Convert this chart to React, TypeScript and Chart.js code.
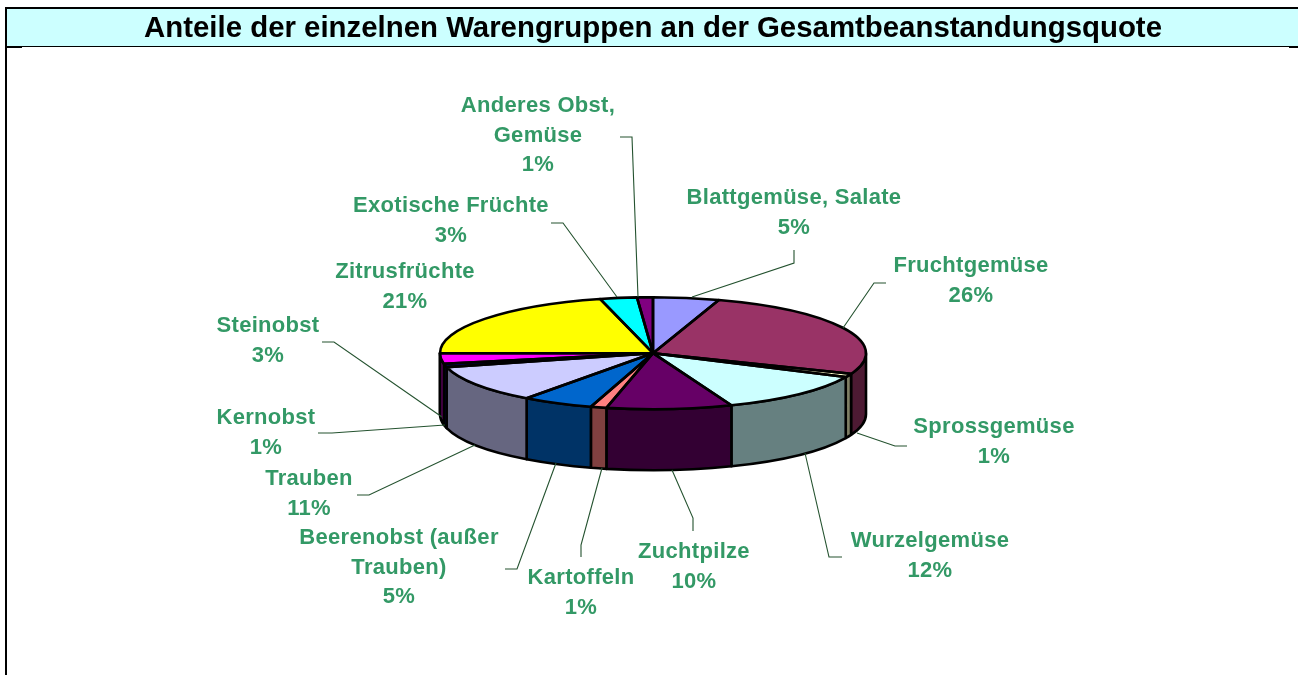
import React, { useEffect, useRef } from "react";
import { Chart, registerables } from "chart.js";

Chart.register(...registerables);

const TITLE = "Anteile der einzelnen Warengruppen an der Gesamtbeanstandungsquote";

const categories = [
  "Blattgemüse, Salate",
  "Fruchtgemüse",
  "Sprossgemüse",
  "Wurzelgemüse",
  "Zuchtpilze",
  "Kartoffeln",
  "Beerenobst (außer\nTrauben)",
  "Trauben",
  "Kernobst",
  "Steinobst",
  "Zitrusfrüchte",
  "Exotische Früchte",
  "Anderes Obst,\nGemüse",
];

const shares = [5, 26, 1, 12, 9.51, 1.2, 5.4, 10.89, 1, 3, 21, 2.8, 1.2];

const topColors = [
  "#9999FF", "#993366", "#FFFFCC", "#CCFFFF", "#660066", "#FF8080", "#0066CC",
  "#CCCCFF", "#000080", "#FF00FF", "#FFFF00", "#00FFFF", "#800080",
];

const sideColors = [
  "#4D4D80", "#4D1A33", "#808066", "#668080", "#330033", "#804040", "#003366",
  "#666680", "#000040", "#800080", "#808000", "#008080", "#400040",
];

// Layout of the annotation text: centre x and first-line centre y
const labelCentres = [
  [794, 198], [971, 266], [994, 427], [930, 541], [694, 552], [581, 578], [399, 538],
  [309, 479], [266, 418], [268, 326], [405, 272], [451, 206], [538, 106],
];

const leaderPaths = [
  [[794, 250], [794, 263], [692, 297]],
  [[886, 283], [874, 283], [843, 328]],
  [[907, 446], [895, 446], [857, 433]],
  [[842, 557], [829, 557], [805, 453]],
  [[693, 531], [693, 518], [672, 470]],
  [[581, 557], [581, 545], [602, 468]],
  [[505, 569], [517, 569], [556, 463]],
  [[357, 495], [369, 495], [475, 445]],
  [[318, 433], [332, 433], [445, 425]],
  [[322, 342], [334, 342], [442, 417]],
  [],
  [[551, 223], [563, 223], [617, 297]],
  [[620, 137], [632, 137], [638, 297]],
];

const SQUASH = 56 / 213;
const DEPTH = 61;
const total = shares.reduce((a, b) => a + b, 0);

const pie3d = {
  id: "pie3d",
  beforeDraw(chart: any) {
    const { ctx, width, height } = chart;
    ctx.save();
    ctx.fillStyle = "#FFFFFF";
    ctx.fillRect(0, 0, width, height);
    ctx.fillStyle = "#CCFFFF";
    ctx.fillRect(6, 8, width - 6, 38);
    ctx.fillStyle = "#000000";
    ctx.fillRect(5, 7, width - 5, 2);
    ctx.fillRect(5, 7, 2, height - 7);
    ctx.fillRect(6, 46, width - 6, 1);
    ctx.fillRect(6, 47, 16, 1);
    ctx.fillRect(width - 9, 47, 9, 1);
    ctx.restore();
  },
  beforeDatasetsDraw(chart: any) {
    const { ctx } = chart;
    const arcs = chart.getDatasetMeta(0).data;
    const { x, y, outerRadius: r } = arcs[0];
    const ry = r * SQUASH;
    ctx.save();
    ctx.lineWidth = 2.6;
    ctx.lineJoin = "round";
    ctx.strokeStyle = "#000000";
    arcs.forEach((arc: any, i: number) => {
      const a1 = Math.max(arc.startAngle, 0);
      const a2 = Math.min(arc.endAngle, Math.PI);
      if (a2 <= a1) return;
      ctx.beginPath();
      ctx.ellipse(x, y, r, ry, 0, a1, a2);
      ctx.lineTo(x + r * Math.cos(a2), y + ry * Math.sin(a2) + DEPTH);
      ctx.ellipse(x, y + DEPTH, r, ry, 0, a2, a1, true);
      ctx.closePath();
      ctx.fillStyle = sideColors[i];
      ctx.fill();
      ctx.stroke();
    });
    ctx.restore();
    ctx.save();
    ctx.translate(x, y);
    ctx.scale(1, SQUASH);
    ctx.translate(-x, -y);
  },
  afterDatasetsDraw(chart: any) {
    const { ctx } = chart;
    ctx.restore();
    const arcs = chart.getDatasetMeta(0).data;
    const { x, y, outerRadius: r } = arcs[0];
    const ry = r * SQUASH;
    ctx.save();
    ctx.lineWidth = 2.6;
    ctx.lineJoin = "round";
    ctx.strokeStyle = "#000000";
    arcs.forEach((arc: any) => {
      ctx.beginPath();
      ctx.moveTo(x, y);
      ctx.ellipse(x, y, r, ry, 0, arc.startAngle, arc.endAngle);
      ctx.closePath();
      ctx.stroke();
    });
    ctx.restore();

    ctx.save();
    ctx.strokeStyle = "#24522F";
    ctx.lineWidth = 1.1;
    leaderPaths.forEach((path) => {
      if (!path.length) return;
      ctx.beginPath();
      path.forEach(([px, py], k) => (k ? ctx.lineTo(px, py) : ctx.moveTo(px, py)));
      ctx.stroke();
    });
    ctx.fillStyle = "#339966";
    ctx.font = 'bold 22px "Liberation Sans", Arial, sans-serif';
    ctx.letterSpacing = "0.3px";
    ctx.textAlign = "center";
    ctx.textBaseline = "middle";
    categories.forEach((name, i) => {
      const [cx, cy] = labelCentres[i];
      const lines = [...name.split("\n"), `${Math.round((shares[i] / total) * 100)}%`];
      lines.forEach((line, k) => ctx.fillText(line, cx, cy + k * 29.5));
    });
    ctx.restore();
  },
};

export default function App() {
  const ref = useRef<HTMLCanvasElement>(null);
  useEffect(() => {
    const chart = new Chart(ref.current as HTMLCanvasElement, {
      type: "pie",
      data: {
        labels: categories,
        datasets: [
          {
            data: shares,
            backgroundColor: topColors,
            borderWidth: 0,
            radius: 213,
          },
        ],
      },
      options: {
        animation: false,
        responsive: false,
        layout: { padding: { left: 8, right: 0, top: 0, bottom: 15 } },
        plugins: {
          legend: { display: false },
          tooltip: { enabled: false },
          title: {
            display: true,
            text: TITLE,
            fullSize: false,
            color: "#000000",
            font: { family: '"Liberation Sans", Arial, sans-serif', size: 29.4, weight: "bold", lineHeight: 1 },
            padding: { top: 14.5, bottom: 2.5 },
          },
        },
      },
      plugins: [pie3d],
    } as any);
    return () => chart.destroy();
  }, []);
  return (
    <div style={{ position: "fixed", left: 0, top: 0, width: 1298, height: 675 }}>
      <canvas ref={ref} width={1298} height={675} style={{ display: "block" }} />
    </div>
  );
}
